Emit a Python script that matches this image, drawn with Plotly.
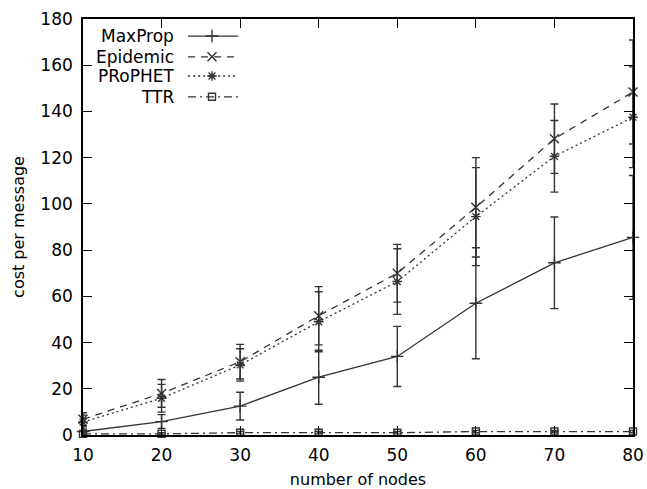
import plotly.graph_objects as go

nodes = [10, 20, 30, 40, 50, 60, 70, 80]

maxprop = [1.5, 5.8, 12.5, 25.0, 34.0, 57.0, 74.5, 85.5]
maxprop_err = [2.0, 3.0, 6.0, 11.7, 13.0, 24.0, 19.8, 26.8]

epidemic = [6.8, 18.0, 31.7, 51.6, 70.0, 98.5, 128.2, 148.4]
epidemic_err = [2.8, 6.0, 7.5, 12.6, 12.5, 21.5, 15.0, 22.5]

prophet = [5.6, 15.9, 30.3, 49.0, 66.4, 94.5, 120.6, 137.5]
prophet_err = [3.0, 6.0, 7.0, 13.0, 14.2, 21.2, 15.5, 21.8]

ttr = [0.5, 0.5, 1.0, 1.0, 1.0, 1.5, 1.5, 1.5]
ttr_err = [0.5, 0.5, 0.5, 0.5, 0.5, 0.5, 0.5, 0.5]

names = ["MaxProp", "Epidemic", "PRoPHET", "TTR"]
values = [maxprop, epidemic, prophet, ttr]
errors = [maxprop_err, epidemic_err, prophet_err, ttr_err]
dashes = ["solid", "7px,6px", "2px,3px", "8px,4px,2px,4px"]
symbols = ["cross-thin-open", "x-thin-open", "asterisk-open", "square-open"]
msizes = [9, 9, 8, 7]

LC = "#333333"
FONT = "DejaVu Sans"
FS = 17

fig = go.Figure()
for name, v, e, d, s, ms in zip(names, values, errors, dashes, symbols, msizes):
    minus = [min(err, val) for err, val in zip(e, v)]
    fig.add_trace(go.Scatter(
        x=nodes, y=v, name=name, mode="lines+markers",
        line=dict(color=LC, width=1.3, dash=d),
        marker=dict(symbol=s, size=ms, color=LC, line=dict(color=LC, width=1.4)),
        error_y=dict(type="data", array=e, arrayminus=minus, symmetric=False,
                     color=LC, thickness=1.4, width=4),
        cliponaxis=False, showlegend=False,
    ))

# custom gnuplot-style key (text on the left, sample on the right)
row_y = [0.959, 0.909, 0.863, 0.813]
for name, d, s, ms, ry in zip(names, dashes, symbols, msizes, row_y):
    fig.add_trace(go.Scatter(
        x=[0.191, 0.2345, 0.282], y=[ry, ry, ry], xaxis="x2", yaxis="y2",
        mode="lines", line=dict(color=LC, width=1.3, dash=d),
        showlegend=False, hoverinfo="skip"))
    fig.add_trace(go.Scatter(
        x=[0.2345], y=[ry], xaxis="x2", yaxis="y2", mode="markers",
        marker=dict(symbol=s, size=ms, color=LC, line=dict(color=LC, width=1.4)),
        showlegend=False, hoverinfo="skip"))
    fig.add_annotation(x=0.169, y=ry, xref="paper", yref="paper", text=name,
                       showarrow=False, xanchor="right", yanchor="middle",
                       font=dict(family=FONT, size=FS, color="black"))

axis_common = dict(
    showline=True, linecolor="black", linewidth=1.6, mirror="allticks",
    ticks="inside", ticklen=9, tickwidth=1.3, tickcolor="black",
    showgrid=False, zeroline=False, automargin=False,
    tickfont=dict(family=FONT, size=FS, color="black"),
)

fig.update_layout(
    width=647, height=489,
    margin=dict(l=83, r=14, t=19, b=54),
    paper_bgcolor="white", plot_bgcolor="white",
    xaxis=dict(range=[10, 80], dtick=10, tick0=10, ticklabelstandoff=4,
               title=dict(text="number of nodes", standoff=10,
                          font=dict(family=FONT, size=16, color="black")),
               **axis_common),
    yaxis=dict(range=[0, 180], dtick=20, ticklabelstandoff=5,
               title=dict(text="cost per message", standoff=12,
                          font=dict(family=FONT, size=16, color="black")),
               **axis_common),
    xaxis2=dict(range=[0, 1], overlaying="x", visible=False),
    yaxis2=dict(range=[0, 1], overlaying="y", visible=False),
)

fig.write_html(
    "out.html",
    config={"displayModeBar": False},
    post_script=("document.documentElement.style.margin='0';"
                 "document.documentElement.style.overflow='hidden';"
                 "document.body.style.margin='0';"
                 "document.body.style.overflow='hidden';"),
)
